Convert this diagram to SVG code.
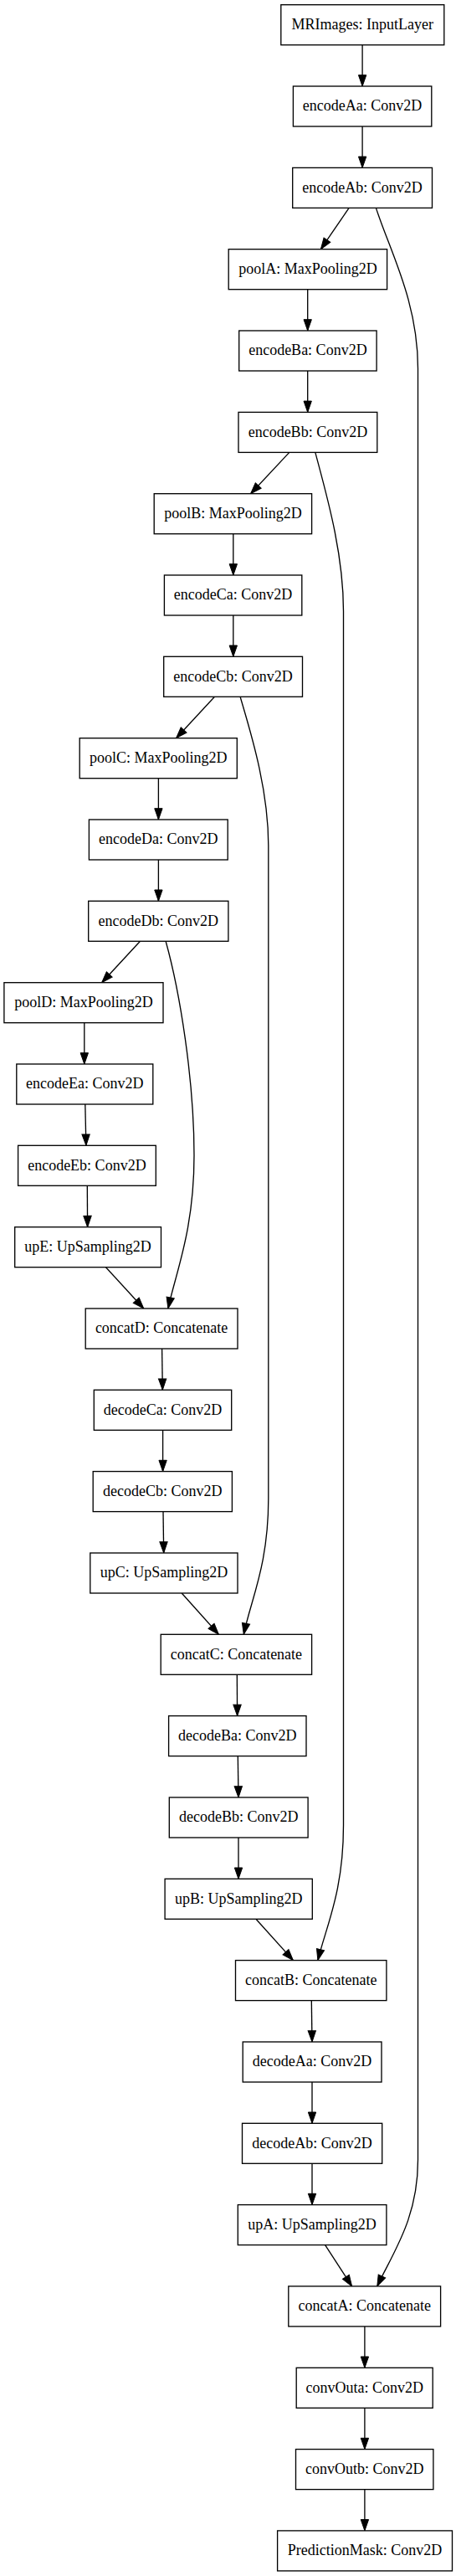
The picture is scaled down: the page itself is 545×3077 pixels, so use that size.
<svg xmlns="http://www.w3.org/2000/svg" width="545" height="3077" viewBox="0 0 545 3077">
<style>
.n rect{fill:#fff;stroke:#000;stroke-width:1.33}
.n text{font-family:"Liberation Serif","Times New Roman",serif;font-size:18px;fill:#000;text-anchor:middle}
.e path{fill:none;stroke:#000;stroke-width:1.33;marker-end:url(#arr)}
</style>
<defs>
<marker id="arr" markerUnits="userSpaceOnUse" markerWidth="14" markerHeight="10" refX="13.3" refY="4.67" orient="auto" overflow="visible"><path d="M0,0 L13.3,4.67 L0,9.33 z" fill="#000" stroke="#000" stroke-width="1"/></marker>
</defs>
<rect width="545" height="3077" fill="#fff"/>
<g id="edges" class="e">
<path d="M433.1,53.7 L433.1,103"/>
<path d="M433.1,151 L433.1,200.4"/>
<path d="M417.1,248.4 L383.4,297.7"/>
<path d="M367.7,345.7 L367.7,395"/>
<path d="M367.7,443 L367.7,492.4"/>
<path d="M345.8,540.4 L299.6,589.7"/>
<path d="M278.8,637.7 L278.8,687"/>
<path d="M278.8,735 L278.8,784.3"/>
<path d="M256.5,832.3 L210.6,881.7"/>
<path d="M189.4,929.7 L189.4,979"/>
<path d="M189.4,1027 L189.4,1076.3"/>
<path d="M167.5,1124.3 L121.7,1173.7"/>
<path d="M100.8,1221.7 L100.8,1271"/>
<path d="M101.8,1319 L102.9,1368.3"/>
<path d="M104.3,1416.3 L104.6,1465.7"/>
<path d="M126.5,1513.7 L171.7,1563"/>
<path d="M193.6,1611 L194.3,1660.3"/>
<path d="M194.6,1708.3 L194.6,1757.6"/>
<path d="M195,1805.6 L195.7,1855"/>
<path d="M217.2,1903 L261.4,1952.3"/>
<path d="M283.3,2000.3 L283.6,2049.6"/>
<path d="M284.3,2097.6 L285,2147"/>
<path d="M285,2195 L285,2244.3"/>
<path d="M305.9,2292.3 L350.4,2341.6"/>
<path d="M372.3,2389.6 L373,2439"/>
<path d="M373,2487 L373,2536.3"/>
<path d="M373,2584.3 L373,2633.6"/>
<path d="M388.6,2681.6 L420.6,2730.9"/>
<path d="M435.9,2778.9 L435.9,2828.3"/>
<path d="M435.9,2876.3 L435.9,2925.6"/>
<path d="M435.9,2973.6 L435.9,3022.9"/>
<path d="M198.1,1124.3 C215,1185 232,1290 232,1380 C232,1470 210,1520 200.9,1563"/>
<path d="M287.1,832.3 C298,870 320.8,940 320.8,1010 L320.8,1790 C320.8,1870 300,1910 291.3,1952.3"/>
<path d="M376.8,540.4 C390,590 410.5,660 410.5,730 L410.5,2180 C410.5,2260 390,2300 379.9,2341.6"/>
<path d="M449.4,248.4 C466,300 499.5,360 499.5,440 L499.5,2580 C499.5,2650 470,2690 450.8,2730.9"/>
</g>
<g id="MRImages" class="n"><rect x="335.8" y="5.7" width="195" height="48"/><text x="433.3" y="35">MRImages: InputLayer</text></g>
<g id="encodeAa" class="n"><rect x="350.4" y="103" width="165.4" height="48"/><text x="433.1" y="132.3">encodeAa: Conv2D</text></g>
<g id="encodeAb" class="n"><rect x="349.7" y="200.4" width="166.8" height="48"/><text x="433.1" y="229.7">encodeAb: Conv2D</text></g>
<g id="poolA" class="n"><rect x="273.2" y="297.7" width="189.4" height="48"/><text x="367.9" y="327">poolA: MaxPooling2D</text></g>
<g id="encodeBa" class="n"><rect x="285.7" y="395" width="164.4" height="48"/><text x="367.9" y="424.3">encodeBa: Conv2D</text></g>
<g id="encodeBb" class="n"><rect x="285" y="492.4" width="165.8" height="48"/><text x="367.9" y="521.7">encodeBb: Conv2D</text></g>
<g id="poolB" class="n"><rect x="184.2" y="589.7" width="188.4" height="48"/><text x="278.4" y="619">poolB: MaxPooling2D</text></g>
<g id="encodeCa" class="n"><rect x="196.4" y="687" width="164.4" height="48"/><text x="278.6" y="716.3">encodeCa: Conv2D</text></g>
<g id="encodeCb" class="n"><rect x="195.7" y="784.3" width="165.8" height="48"/><text x="278.6" y="813.6">encodeCb: Conv2D</text></g>
<g id="poolC" class="n"><rect x="95.2" y="881.7" width="188.1" height="48"/><text x="189.2" y="911">poolC: MaxPooling2D</text></g>
<g id="encodeDa" class="n"><rect x="106.4" y="979" width="165.8" height="48"/><text x="189.3" y="1008.3">encodeDa: Conv2D</text></g>
<g id="encodeDb" class="n"><rect x="105.7" y="1076.3" width="167.2" height="48"/><text x="189.3" y="1105.6">encodeDb: Conv2D</text></g>
<g id="poolD" class="n"><rect x="4.9" y="1173.7" width="190.1" height="48"/><text x="99.9" y="1203">poolD: MaxPooling2D</text></g>
<g id="encodeEa" class="n"><rect x="19.8" y="1271" width="163" height="48"/><text x="101.3" y="1300.3">encodeEa: Conv2D</text></g>
<g id="encodeEb" class="n"><rect x="21.6" y="1368.3" width="164.7" height="48"/><text x="103.9" y="1397.6">encodeEb: Conv2D</text></g>
<g id="upE" class="n"><rect x="17.7" y="1465.7" width="174.8" height="48"/><text x="105.1" y="1495">upE: UpSampling2D</text></g>
<g id="concatD" class="n"><rect x="102.2" y="1563" width="181.8" height="48"/><text x="193.1" y="1592.3">concatD: Concatenate</text></g>
<g id="decodeCa" class="n"><rect x="112.3" y="1660.3" width="164.4" height="48"/><text x="194.5" y="1689.6">decodeCa: Conv2D</text></g>
<g id="decodeCb" class="n"><rect x="111.2" y="1757.6" width="166.2" height="48"/><text x="194.3" y="1786.9">decodeCb: Conv2D</text></g>
<g id="upC" class="n"><rect x="107.8" y="1855" width="176.2" height="48"/><text x="195.9" y="1884.3">upC: UpSampling2D</text></g>
<g id="concatC" class="n"><rect x="192.2" y="1952.3" width="180.4" height="48"/><text x="282.4" y="1981.6">concatC: Concatenate</text></g>
<g id="decodeBa" class="n"><rect x="201.6" y="2049.6" width="164.4" height="48"/><text x="283.8" y="2078.9">decodeBa: Conv2D</text></g>
<g id="decodeBb" class="n"><rect x="202.3" y="2147" width="165.8" height="48"/><text x="285.2" y="2176.3">decodeBb: Conv2D</text></g>
<g id="upB" class="n"><rect x="197.1" y="2244.3" width="176.2" height="48"/><text x="285.2" y="2273.6">upB: UpSampling2D</text></g>
<g id="concatB" class="n"><rect x="281.5" y="2341.6" width="180.4" height="48"/><text x="371.7" y="2370.9">concatB: Concatenate</text></g>
<g id="decodeAa" class="n"><rect x="290.2" y="2439" width="165.8" height="48"/><text x="373.1" y="2468.3">decodeAa: Conv2D</text></g>
<g id="decodeAb" class="n"><rect x="289.5" y="2536.3" width="167.2" height="48"/><text x="373.1" y="2565.6">decodeAb: Conv2D</text></g>
<g id="upA" class="n"><rect x="284.3" y="2633.6" width="177.6" height="48"/><text x="373.1" y="2662.9">upA: UpSampling2D</text></g>
<g id="concatA" class="n"><rect x="344.8" y="2730.9" width="181.8" height="48"/><text x="435.7" y="2760.2">concatA: Concatenate</text></g>
<g id="convOuta" class="n"><rect x="354.2" y="2828.3" width="163" height="48"/><text x="435.7" y="2857.6">convOuta: Conv2D</text></g>
<g id="convOutb" class="n"><rect x="353.5" y="2925.6" width="164.4" height="48"/><text x="435.7" y="2954.9">convOutb: Conv2D</text></g>
<g id="PredictionMask" class="n"><rect x="331.6" y="3022.9" width="208.9" height="48"/><text x="436" y="3052.2">PredictionMask: Conv2D</text></g>
</svg>
